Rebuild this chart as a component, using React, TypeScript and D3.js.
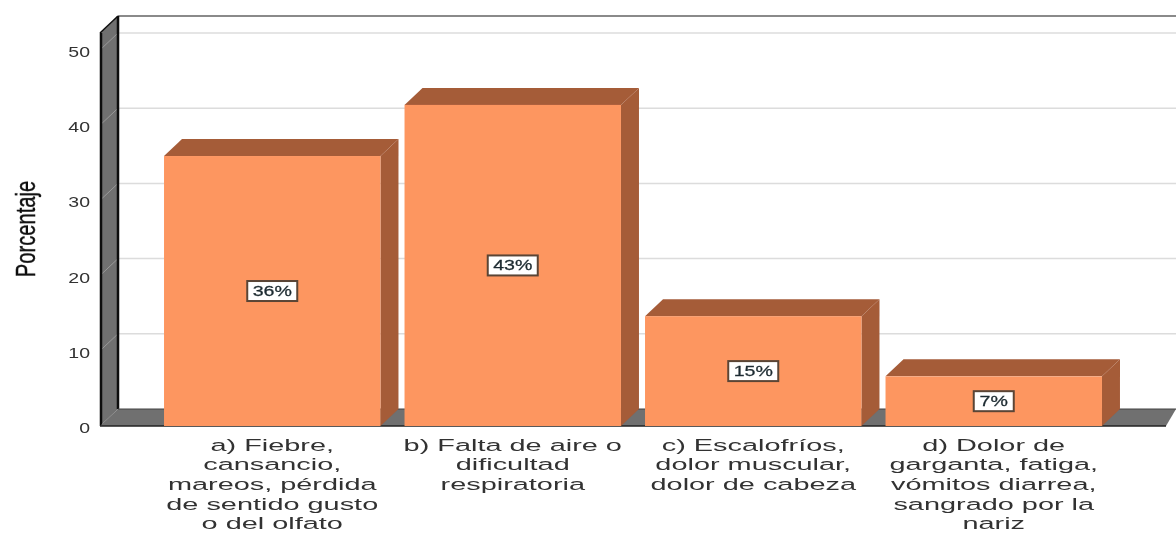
import React from "react";
import * as d3 from "d3";

const categories = ["a", "b", "c", "d"];
const values = [35.9, 42.7, 14.6, 6.6];
const valueLabels = ["36%", "43%", "15%", "7%"];
const categoryLines = [
  ["a) Fiebre,", "cansancio,", "mareos, pérdida", "de sentido gusto", "o del olfato"],
  ["b) Falta de aire o", "dificultad", "respiratoria"],
  ["c) Escalofríos,", "dolor muscular,", "dolor de cabeza"],
  ["d) Dolor de", "garganta, fatiga,", "vómitos diarrea,", "sangrado por la", "nariz"],
];
const yTicks = [0, 10, 20, 30, 40, 50];

const W = 1176, H = 533;
const DX = 18, DY = 17;
const x0 = 100, xEnd = 1158;
const y = d3.scaleLinear().domain([0, 50]).range([426, 50]);
const x = d3.scaleBand().domain(categories).range([152, 1114]).paddingInner(0.1).paddingOuter(0.05);
const yTop = 33;

const FACE = "#fd9660", SIDE = "#a55b38", WALL = "#6f6f6f", GRID = "#dcdcdc";
const poly = (p: number[][]) => p.map((q) => q.join(",")).join(" ");

export default function App() {
  return (
    <svg width={W} height={H} viewBox={`0 0 ${W} ${H}`} style={{ position: "absolute", left: 0, top: 0, background: "#fff" }}>
      <defs>
        <filter id="soft" x="-5%" y="-5%" width="110%" height="110%"><feGaussianBlur stdDeviation="0.6" /></filter>
        <filter id="softer" x="-5%" y="-5%" width="110%" height="110%"><feGaussianBlur stdDeviation="0.4" /></filter>
      </defs>
      <g filter="url(#softer)">
        {yTicks.slice(1).map((t) => (
          <line key={t} x1={x0 + DX} x2={W} y1={y(t) - DY} y2={y(t) - DY} stroke={GRID} strokeWidth={1.5} />
        ))}
        <line x1={x0 + DX} x2={W} y1={yTop - DY} y2={yTop - DY} stroke="#8a8a8a" strokeWidth={2} />
        <polygon points={poly([[x0, yTop], [x0 + DX, yTop - DY], [x0 + DX, y(0) - DY], [x0, y(0)]])} fill={WALL} />
        {yTicks.slice(1).map((t) => (
          <line key={t} x1={x0} x2={x0 + DX} y1={y(t)} y2={y(t) - DY} stroke="#9a9a9a" strokeWidth={1} />
        ))}
        <line x1={x0 + 1} x2={x0 + 1} y1={yTop} y2={y(0)} stroke="#111" strokeWidth={2.5} />
        <line x1={x0 + DX} x2={x0 + DX} y1={yTop - DY} y2={y(0) - DY} stroke="#111" strokeWidth={2.5} />
        <line x1={x0} x2={x0 + DX} y1={yTop} y2={yTop - DY} stroke="#111" strokeWidth={1.5} />
        <polygon points={poly([[x0, y(0)], [x0 + DX, y(0) - DY], [W, y(0) - DY], [xEnd + 8, y(0)]])} fill={WALL} />
        <line x1={x0 + DX} x2={W} y1={y(0) - DY} y2={y(0) - DY} stroke="#444" strokeWidth={1} />
        <line x1={x0} x2={xEnd + 8} y1={y(0)} y2={y(0)} stroke="#222" strokeWidth={1.5} />
        {categories.map((c, i) => {
          const bx = x(c)!, bw = x.bandwidth(), top = y(values[i]), bot = y(0);
          return (
            <g key={c}>
              <polygon points={poly([[bx, top], [bx + DX, top - DY], [bx + bw + DX, top - DY], [bx + bw, top]])} fill={SIDE} />
              <polygon points={poly([[bx + bw, top], [bx + bw + DX, top - DY], [bx + bw + DX, bot - DY], [bx + bw, bot]])} fill={SIDE} />
              <rect x={bx} y={top} width={bw} height={bot - top} fill={FACE} />
            </g>
          );
        })}
      </g>
      <g filter="url(#soft)">
        {categories.map((c, i) => {
          const cx = x(c)! + x.bandwidth() / 2, cy = (y(values[i]) + y(0)) / 2;
          const w = valueLabels[i].length > 2 ? 50 : 40;
          return (
            <g key={c}>
              <rect x={cx - w / 2} y={cy - 10} width={w} height={20} fill="#fff" stroke="#5a4436" strokeWidth={2} />
              <text transform={`translate(${cx},${cy + 5}) scale(1.4,1)`} textAnchor="middle" fontFamily="Liberation Sans" fontSize={14} fill="#1c2a30" stroke="#1c2a30" strokeWidth={0.25}>{valueLabels[i]}</text>
            </g>
          );
        })}
        {yTicks.map((t) => (
          <text key={t} transform={`translate(90,${y(t) + 7}) scale(1.3,1)`} textAnchor="end" fontFamily="Liberation Sans" fontSize={15} fill="#333">{t}</text>
        ))}
        <text transform="translate(35,229) rotate(-90) scale(0.72,1)" textAnchor="middle" fontFamily="Liberation Sans" fontSize={28} fill="#111" stroke="#111" strokeWidth={0.4}>Porcentaje</text>
        {categories.map((c, i) => (
          <g key={c}>
            {categoryLines[i].map((l, j) => (
              <text key={j} transform={`translate(${x(c)! + x.bandwidth() / 2},${450.5 + j * 19.7}) scale(1.7,1)`} textAnchor="middle" fontFamily="Liberation Sans" fontSize={17} fill="#333">{l}</text>
            ))}
          </g>
        ))}
      </g>
    </svg>
  );
}
